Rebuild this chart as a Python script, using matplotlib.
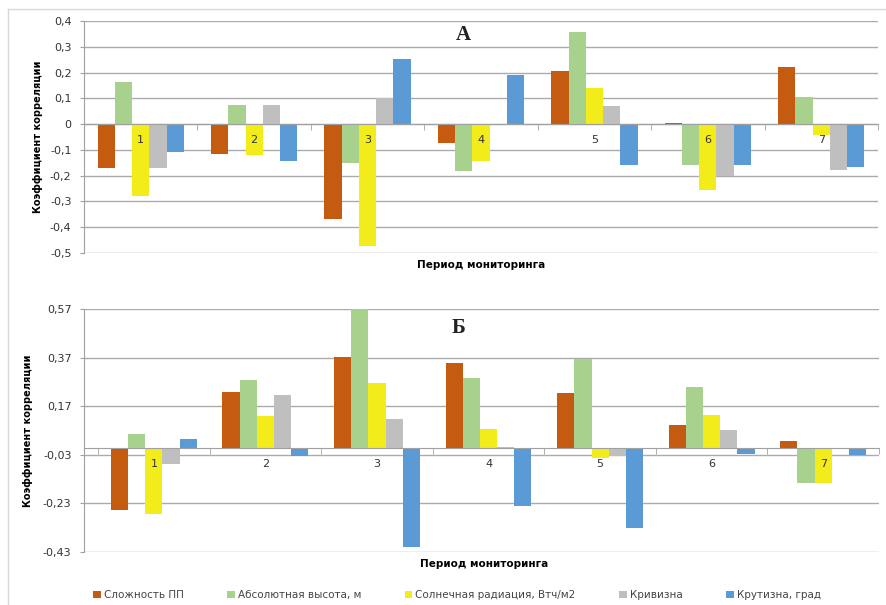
import numpy as np
import matplotlib
matplotlib.use("Agg")
import matplotlib.pyplot as plt
from matplotlib.lines import Line2D
from matplotlib.ticker import FixedLocator, FuncFormatter, NullFormatter
from matplotlib.transforms import offset_copy

# Data
periods = ["1", "2", "3", "4", "5", "6", "7"]
series_names = ["Сложность ПП", "Абсолютная высота, м", "Солнечная радиация, Втч/м2",
                "Кривизна", "Крутизна, град"]
colors = ["#C55A11", "#A9D18E", "#F2EC1B", "#BFBFBF", "#5B9BD5"]

# Panel A
a_complexity = [-0.172, -0.116, -0.370, -0.073, 0.207, 0.005, 0.221]
a_altitude = [0.165, 0.073, -0.150, -0.183, 0.358, -0.157, 0.107]
a_radiation = [-0.280, -0.120, -0.472, -0.142, 0.142, -0.254, -0.044]
a_curvature = [-0.172, 0.076, 0.103, -0.002, 0.072, -0.200, -0.178]
a_slope = [-0.108, -0.145, 0.253, 0.190, -0.157, -0.160, -0.167]
a_ticks = [0.4, 0.3, 0.2, 0.1, 0.0, -0.1, -0.2, -0.3, -0.4, -0.5]

# Panel Б
b_complexity = [-0.256, 0.230, 0.371, 0.347, 0.226, 0.091, 0.028]
b_altitude = [0.056, 0.278, 0.569, 0.285, 0.365, 0.250, -0.146]
b_radiation = [-0.272, 0.131, 0.265, 0.078, -0.045, 0.135, -0.144]
b_curvature = [-0.067, 0.215, 0.118, 0.004, -0.034, 0.072, 0.0]
b_slope = [0.036, -0.034, -0.410, -0.242, -0.330, -0.025, -0.030]
b_ticks = [0.57, 0.37, 0.17, -0.03, -0.23, -0.43]

W, H = 886, 605
fig = plt.figure(figsize=(W / 100, H / 100), dpi=100)


def px_axes(left, top, right, bottom):
    return fig.add_axes([left / W, 1 - bottom / H, (right - left) / W, (bottom - top) / H])


def comma(v, pos):
    s = f"{v:.2f}".rstrip("0").rstrip(".")
    if s in ("-0", "0.0"):
        s = "0"
    return s.replace(".", ",")


def draw_panel(ax, series, ticks, xlim, bar_frac, letter, letter_xy, ylab_x):
    x = np.arange(len(periods))
    n = len(series)
    bw = bar_frac / n
    for i, vals in enumerate(series):
        ax.bar(x + (i - (n - 1) / 2) * bw, vals, width=bw, color=colors[i],
               label=series_names[i], zorder=3)
    ax.set_xlim(*xlim)
    ax.set_ylim(min(ticks), max(ticks))
    ax.yaxis.set_major_locator(FixedLocator(ticks))
    ax.yaxis.set_major_formatter(FuncFormatter(comma))
    ax.grid(axis="y", color="#ababab", lw=1, zorder=0)
    for s in ["top", "right"]:
        ax.spines[s].set_visible(False)
    ax.spines["left"].set_color("#a0a0a0")
    ax.spines["bottom"].set_color("#a0a0a0")
    ax.spines["bottom"].set_position(("data", 0))
    ax.spines["bottom"].set_zorder(4)
    ax.set_xticks(x)
    ax.xaxis.set_major_formatter(NullFormatter())
    ax.set_xticks(np.arange(-0.5, len(periods), 1.0), minor=True)
    ax.tick_params(axis="x", which="major", length=0)
    ax.tick_params(axis="x", which="minor", length=4, color="#a0a0a0", direction="out")
    ax.tick_params(axis="y", length=3, color="#a0a0a0", pad=6, labelsize=8, labelcolor="#333333")
    # category labels sit just under the zero line, on top of the bars
    tr = offset_copy(ax.transData, fig=fig, x=0, y=-16, units="dots")
    for xi, lab in zip(x, periods):
        ax.text(xi, 0, lab, transform=tr, ha="center", va="center", fontsize=8,
                color="#333333", zorder=6)
    ax.set_ylabel("Коэффициент корреляции", fontsize=7, fontweight="bold")
    ax.yaxis.set_label_coords(ylab_x, 0.5)
    ax.text(letter_xy[0], letter_xy[1], letter, transform=fig.transFigure,
            family="Liberation Serif", fontsize=15, fontweight="bold",
            ha="center", va="center", color="#222222")


ax1 = px_axes(84, 21, 878, 253)
draw_panel(ax1, [a_complexity, a_altitude, a_radiation, a_curvature, a_slope],
           a_ticks, (-0.5, 6.5), 0.76, "А", (463 / W, 1 - 35 / H), -0.052)
fig.text(481 / W, 1 - 265 / H, "Период мониторинга", ha="center", va="center",
         fontsize=7.5, fontweight="bold")

ax2 = px_axes(84, 309, 879, 552)
draw_panel(ax2, [b_complexity, b_altitude, b_radiation, b_curvature, b_slope],
           b_ticks, (-0.626, 6.5), 0.77, "Б", (459 / W, 1 - 328 / H), -0.064)
fig.text(484 / W, 1 - 564 / H, "Период мониторинга", ha="center", va="center",
         fontsize=7.5, fontweight="bold")

handles, labels = ax2.get_legend_handles_labels()
fig.legend(handles, labels, loc="center", bbox_to_anchor=(457 / W, 1 - 595 / H),
           ncol=5, frameon=False, fontsize=7.5, handlelength=0.7, handleheight=0.7,
           handletextpad=0.3, columnspacing=4.2, labelcolor="#444444")

# light outer frame of the original figure
fig.add_artist(Line2D([8 / W, 1], [1 - 9 / H, 1 - 9 / H], transform=fig.transFigure,
                      color="#d8d8d8", lw=1))
fig.add_artist(Line2D([8 / W, 8 / W], [0, 1 - 9 / H], transform=fig.transFigure,
                      color="#d8d8d8", lw=1))

fig.savefig("out.png", dpi=100, facecolor="white")
